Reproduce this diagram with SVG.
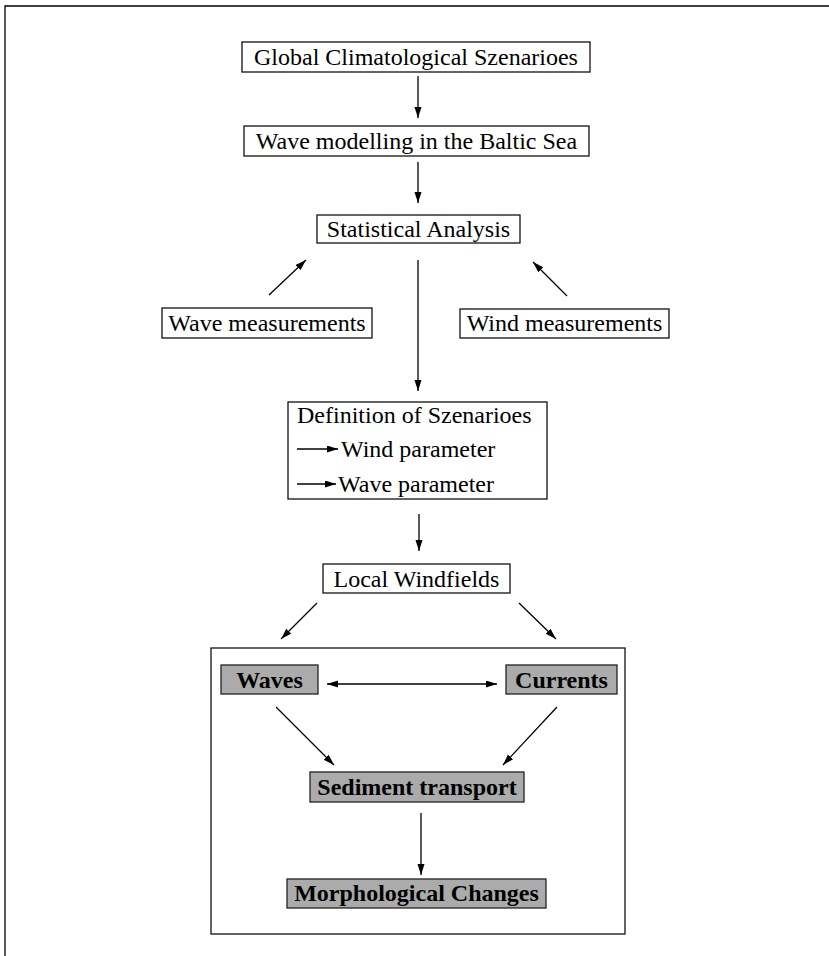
<svg xmlns="http://www.w3.org/2000/svg" width="829" height="956" viewBox="0 0 829 956">
<defs>
<marker id="ah" markerWidth="12" markerHeight="8" refX="11" refY="3.5" orient="auto-start-reverse" markerUnits="userSpaceOnUse">
<path d="M0,0 L11,3.5 L0,7 z" fill="#000"/>
</marker>
<style>
.box{fill:#fff;stroke:#111;stroke-width:1.3}
.gbox{fill:#ababab;stroke:#222;stroke-width:1.3}
.t{font-family:"Liberation Serif","Times New Roman",serif;font-size:24px;fill:#000}
.c{text-anchor:middle}
.b{font-weight:bold}
.ln{stroke:#000;stroke-width:1.3;fill:none}
.a{marker-end:url(#ah)}
</style>
</defs>
<rect width="829" height="956" fill="#fff"/>
<path class="ln" d="M5,956 V6 H829"/>
<g id="n-global"><rect class="box" x="242" y="42" width="348" height="30"/><text class="t c" x="416" y="65">Global Climatological Szenarioes</text></g>
<g id="n-wave-model"><rect class="box" x="244" y="126" width="345" height="30"/><text class="t c" x="416.5" y="149">Wave modelling in the Baltic Sea</text></g>
<g id="n-stat"><rect class="box" x="317" y="215" width="203" height="28"/><text class="t c" x="418.5" y="237">Statistical Analysis</text></g>
<g id="n-wave-meas"><rect class="box" x="162" y="308" width="210" height="30"/><text class="t c" x="267" y="331">Wave measurements</text></g>
<g id="n-wind-meas"><rect class="box" x="460" y="309" width="209" height="29"/><text class="t c" x="564.5" y="331">Wind measurements</text></g>
<g id="n-def"><rect class="box" x="288" y="402" width="259" height="97"/>
<text class="t" x="297" y="423">Definition of Szenarioes</text>
<line class="ln a" x1="297" y1="449" x2="338" y2="449"/>
<text class="t" x="341" y="457">Wind parameter</text>
<line class="ln a" x1="297" y1="484" x2="336" y2="484"/>
<text class="t" x="338" y="492">Wave parameter</text></g>
<g id="n-local"><rect class="box" x="323" y="564" width="187" height="29"/><text class="t c" x="416.5" y="587">Local Windfields</text></g>
<g id="n-frame"><rect class="box" x="211" y="648" width="414" height="286"/></g>
<g id="n-waves"><rect class="gbox" x="221" y="665" width="97" height="29"/><text class="t c b" x="269.5" y="688">Waves</text></g>
<g id="n-currents"><rect class="gbox" x="506" y="665" width="111" height="29"/><text class="t c b" x="561.5" y="688">Currents</text></g>
<g id="n-sediment"><rect class="gbox" x="310" y="772" width="214" height="30"/><text class="t c b" x="417" y="795">Sediment transport</text></g>
<g id="n-morph"><rect class="gbox" x="287" y="879" width="259" height="29"/><text class="t c b" x="416.5" y="901">Morphological Changes</text></g>
<g id="connectors">
<line class="ln a" x1="418" y1="76" x2="418" y2="118"/>
<line class="ln a" x1="418" y1="162" x2="418" y2="203"/>
<line class="ln a" x1="269" y1="295" x2="306" y2="260"/>
<line class="ln a" x1="567" y1="296" x2="533" y2="262"/>
<line class="ln a" x1="418" y1="260" x2="418" y2="391"/>
<line class="ln a" x1="419" y1="514" x2="419" y2="551"/>
<line class="ln a" x1="317" y1="603" x2="281" y2="639"/>
<line class="ln a" x1="519" y1="603" x2="556" y2="639"/>
<line class="ln a" x1="327" y1="684" x2="497" y2="684" marker-start="url(#ah)"/>
<line class="ln a" x1="276" y1="707" x2="334" y2="765"/>
<line class="ln a" x1="557" y1="707" x2="503" y2="765"/>
<line class="ln a" x1="421" y1="813" x2="421" y2="875"/>
</g>
</svg>
